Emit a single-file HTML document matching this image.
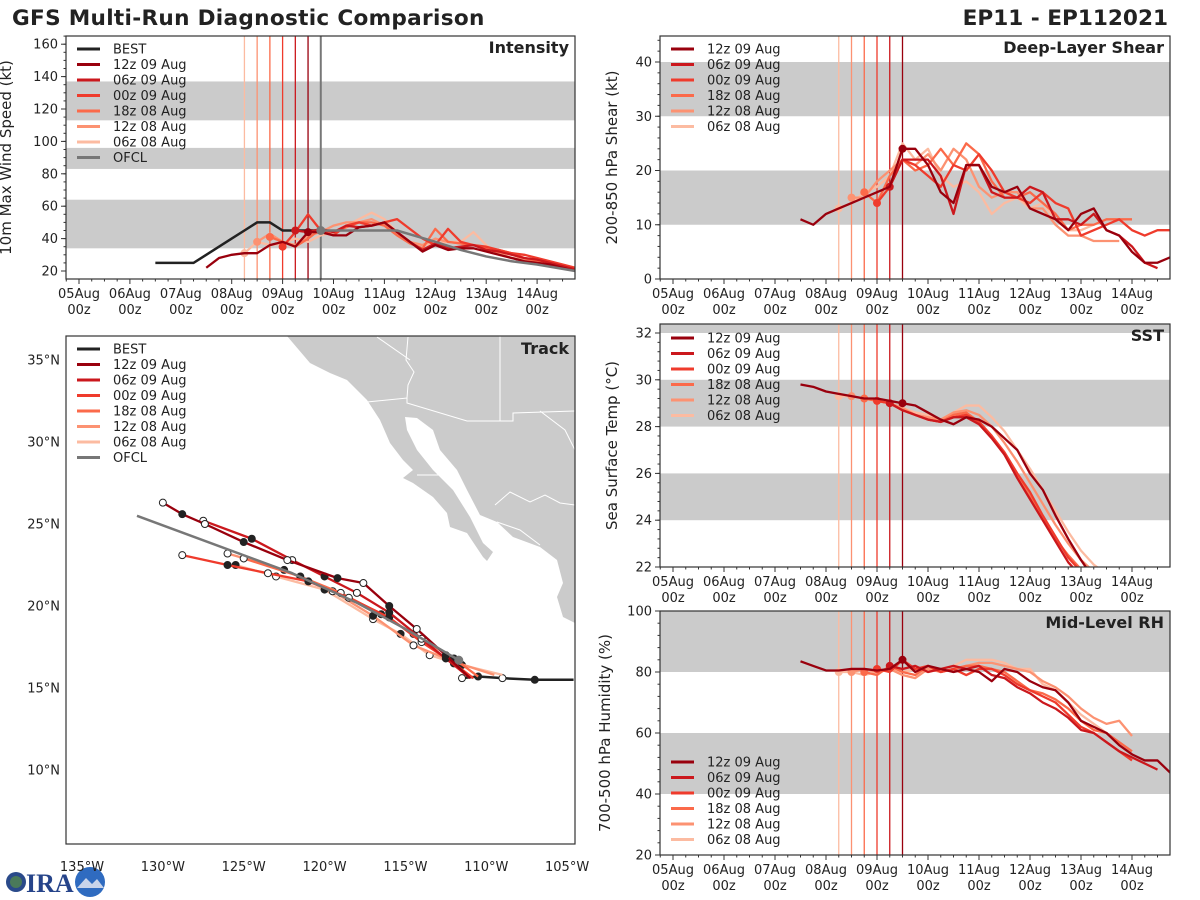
<!DOCTYPE html>
<html><head><meta charset="utf-8">
<style>
body{margin:0;background:#fff;}
svg{display:block;font-family:"DejaVu Sans","Liberation Sans",sans-serif;}
</style></head>
<body>
<svg id="fig" width="1200" height="900" xmlns="http://www.w3.org/2000/svg">
<text x="12" y="25" font-size="21.6" font-weight="bold" fill="#222" letter-spacing="0.3">GFS Multi-Run Diagnostic Comparison</text>
<text x="1168" y="25" font-size="21.6" font-weight="bold" fill="#222" text-anchor="end">EP11 - EP112021</text>
<g>
<circle cx="16" cy="882" r="10" fill="#2a4a8a"/><circle cx="16" cy="882" r="6" fill="#4a7a5a"/>
<text x="26" y="892" font-size="26" font-weight="bold" fill="#26448a" font-family="Liberation Serif,serif">IRA</text>
<circle cx="90" cy="882" r="15" fill="#2f6bc0"/><path d="M77,888 L86,878 L92,884 L97,879 L104,888 Z" fill="#c9d4ea"/>
</g>
</svg>
<script>
// ---------- data ----------
const runLabels = ["12z 09 Aug","06z 09 Aug","00z 09 Aug","18z 08 Aug","12z 08 Aug","06z 08 Aug"];
const runStarts = [7.5, 9.25, 9.0, 8.75, 8.5, 8.25];
const runInit = [9.5, 9.25, 9.0, 8.75, 8.5, 8.25];
const dayTicks = ["05Aug","06Aug","07Aug","08Aug","09Aug","10Aug","11Aug","12Aug","13Aug","14Aug"];
const intTicks = [20,40,60,80,100,120,140,160];
const shearTicks = [0,10,20,30,40];
const sstTicks = [22,24,26,28,30,32];
const rhTicks = [20,40,60,80,100];
const bestStart = 6.5;
const bestInt = [25,25,25,25,30,35,40,45,50,50,45,45,45,45];
const ofclDays = [9.75,10,10.5,11,11.25,12,12.5,13,13.5,14,14.75];
const ofclInt = [45,45,45,45,45,38,33,29,26,24,20];
const int12z09 = [22,28,30,31,31,36,38,35,44,44,42,42,47,48,50,44,38,32,36,33,34,34,32,30,28,26,25,24,22,20,19,18];
const int06z09 = [45,44,46,44,48,47,48,50,44,38,33,37,34,35,36,33,32,30,28,27,25,23,21,19,18,18];
const int00z09 = [35,44,55,45,42,48,50,48,50,52,46,40,36,46,38,36,35,33,31,30,28,26,24,22,20];
const int18z08 = [41,38,35,40,46,44,47,50,50,48,42,37,34,46,38,37,36,34,33,31,28,26,24,22,21];
const int12z08 = [38,43,38,36,42,44,48,50,50,52,48,42,38,36,40,38,37,36,34,31,28,27,26,25,23];
const int06z08 = [31,38,36,37,40,38,42,44,48,52,56,52,44,38,36,37,38,38,44,36,30,28,27,26,25,23];
const sh12z09 = [11,10,12,13,14,15,16,17,24,24,21,16,14,21,21,17,16,17,13,12,11,9,12,13,9,8,5,3,3,4];
const sh06z09 = [17,22,22,22,19,12,21,21,16,15,15,17,16,11,11,10,12,9,8,6,3,2];
const sh00z09 = [14,17,22,21,19,17,21,20,23,20,16,15,14,16,14,13,8,9,10,11,9,8,9,9];
const sh18z08 = [16,14,19,22,20,21,24,21,25,23,18,15,15,16,14,12,9,10,10,11,11,11];
const sh12z08 = [15,15,18,20,22,21,23,20,24,22,17,15,16,16,13,13,10,8,8,7,7,7];
const sh06z08 = [13,14,16,17,19,25,22,24,19,17,18,16,12,14,15,13,14,11,9,9,10];
const sst12z09 = [29.8,29.7,29.5,29.4,29.3,29.2,29.2,29.1,29.0,28.9,28.6,28.3,28.1,28.4,28.3,28.0,27.5,27.0,26.0,25.3,24.2,23.2,22.3,21.5];
const sst06z09 = [29.0,28.7,28.5,28.3,28.2,28.4,28.4,28.1,27.5,26.8,25.8,24.9,24.0,23.1,22.2,21.6];
const sst00z09 = [29.1,29.0,28.7,28.5,28.3,28.2,28.4,28.5,28.2,27.6,26.9,26.0,25.2,24.2,23.3,22.4,21.8];
const sst18z08 = [29.2,29.1,29.0,28.7,28.5,28.3,28.2,28.5,28.6,28.2,27.6,26.8,25.9,25.0,24.1,23.2,22.5,21.9];
const sst12z08 = [29.3,29.2,29.1,29.0,28.8,28.5,28.4,28.3,28.6,28.7,28.5,28.0,27.3,26.5,25.6,24.7,23.8,23.0,22.3,21.8];
const sst06z08 = [29.3,29.3,29.2,29.1,29.0,28.8,28.6,28.5,28.3,28.6,28.9,28.9,28.4,27.8,27.0,26.2,25.3,24.4,23.5,22.7,22.1,21.7];
const rh12z09 = [83.5,82,80.5,80.5,81,81,80.5,81,84,80,82,81,80,81,80,77,81,80,77,75,74,70,64,62,60,56,53,51,51,47];
const rh06z09 = [82,81,82,80,81,82,81,82,79,78,75,73,70,68,65,61,60,57,54,52,50,48];
const rh00z09 = [81,80,84,81,82,80,81,79,81,81,79,76,74,72,70,66,62,60,57,54,51];
const rh18z08 = [80,79,82,80,79,82,80,81,82,82,81,80,77,74,73,71,68,64,61,60,57,54];
const rh12z08 = [80,81,80,81,79,78,81,80,81,82,83,83,82,81,80,77,75,72,68,65,63,64,59];
const rh06z08 = [80,80,79,80,81,80,81,80,81,82,84,84,84,83,81,81,76,74,70,66,63,60,56];
const bestTrack = {lon:[-104.6,-107,-109,-110.5,-111.5], lat:[15.5,15.5,15.6,15.7,15.6]};
const ofclTrack = {lon:[-111.7,-115,-118,-122,-131.6], lat:[16.7,18.6,20.2,22,25.5]};
const trk12z09 = {lon:[-111,-112.5,-114.3,-116,-117.6,-119.2,-122.3,-125,-127.4,-128.8,-130], lat:[15.6,17.0,18.6,20.0,21.4,21.7,22.8,23.9,25.0,25.6,26.3]};
const trk06z09 = {lon:[-111,-112.5,-114,-116,-118,-120,-122,-124.5,-127.5], lat:[15.6,16.8,18.0,19.6,20.8,21.8,22.8,24.1,25.2]};
const trk00z09 = {lon:[-110.8,-112,-114,-116,-118.5,-121,-123.5,-126,-128.8], lat:[15.6,16.5,17.8,19.3,20.5,21.5,22.0,22.5,23.1]};
const trk18z08 = {lon:[-110.5,-112,-114.5,-116.5,-119,-121.5,-125], lat:[15.7,16.8,18.3,19.5,20.8,21.8,22.9]};
const trk12z08 = {lon:[-109.5,-112,-114.5,-117,-119.5,-122.5,-126], lat:[15.8,16.6,17.6,19.4,20.9,22.2,23.2]};
const trk06z08 = {lon:[-109,-111.5,-113.5,-115.3,-117,-120,-123,-125.5], lat:[15.8,16.4,17.0,18.3,19.2,21.0,21.8,22.5]};
const lonTicks = [-135,-130,-125,-120,-115,-110,-105];
const latTicks = [10,15,20,25,30,35];
</script>
<script>
const NS="http://www.w3.org/2000/svg";
const fig=document.getElementById('fig');
const colors=["#99000d","#cb181d","#ef3b2c","#fb6a4a","#fc9272","#fcbba1"];
function el(tag,attrs,parent){const e=document.createElementNS(NS,tag);for(const k in attrs)e.setAttribute(k,attrs[k]);(parent||fig).appendChild(e);return e;}
function txt(x,y,s,size,attrs,parent){const t=el('text',Object.assign({x:x,y:y,'font-size':size,fill:'#222'},attrs||{}),parent);t.textContent=s;return t;}

function panel(o){
  const g=el('g',{});
  
  
  const X=d=>o.x0+(d-5)*o.dx, Y=v=>o.yb-(v-o.vb)*o.dy;
  const cid='clip-'+o.name;
  const cp=el('clipPath',{id:cid},g);el('rect',{x:o.L,y:o.T,width:o.R-o.L,height:o.B-o.T},cp);
  o.bands.forEach(b=>{const r=el('rect',{x:o.L,width:o.R-o.L,y:Math.max(o.T,Y(b[1])),height:Math.min(o.B,Y(b[0]))-Math.max(o.T,Y(b[1])),fill:'#cbcbcb','clip-path':`url(#${cid})`},g);
    });
  runInit.forEach((d,i)=>{const l=el('line',{x1:X(d),x2:X(d),y1:o.T,y2:o.B,stroke:colors[i],'stroke-width':1.3},g);
    });
  if(o.ofclLine){const l=el('line',{x1:X(9.75),x2:X(9.75),y1:o.T,y2:o.B,stroke:'#777','stroke-width':2},g);}
  const cg=el('g',{'clip-path':`url(#${cid})`},g);
  if(o.best){const p=el('polyline',{points:o.best.map((v,i)=>X(bestStart+i*0.25)+','+Y(v)).join(' '),fill:'none',stroke:'#222','stroke-width':2.5},cg);
    }
  for(let i=5;i>=0;i--){const s=o.series[i];
    const p=el('polyline',{points:s.map((v,k)=>X(runStarts[i]+k*0.25)+','+Y(v)).join(' '),fill:'none',stroke:colors[i],'stroke-width':2.3,'stroke-linejoin':'round'},cg);
    
    const k=Math.round((runInit[i]-runStarts[i])/0.25);
    const c=el('circle',{cx:X(runInit[i]),cy:Y(s[k]),r:4,fill:colors[i]},cg);
    }
  if(o.ofcl){const p=el('polyline',{points:ofclDays.map((d,i)=>X(d)+','+Y(o.ofcl[i])).join(' '),fill:'none',stroke:'#777','stroke-width':2.5},cg);
    
    const c=el('circle',{cx:X(9.75),cy:Y(o.ofcl[0]),r:4.5,fill:'#777'},cg);}
  const fr=el('rect',{x:o.L,y:o.T,width:o.R-o.L,height:o.B-o.T,fill:'none',stroke:'#333','stroke-width':1.2},g);
  
  dayTicks.forEach((t,i)=>{const x=X(5+i);
    el('line',{x1:x,x2:x,y1:o.B,y2:o.B+5,stroke:'#333'},g);
    for(let q=1;q<4;q++){const xm=X(5+i+q*0.25);if(xm<o.R)el('line',{x1:xm,x2:xm,y1:o.B,y2:o.B+2.5,stroke:'#333'},g);}
    const a=txt(x,o.B+19,t,13,{'text-anchor':'middle'},g);
    const b=txt(x,o.B+35,'00z',13,{'text-anchor':'middle'},g);});
  el('line',{x1:X(4.75),x2:X(4.75),y1:o.B,y2:o.B+2.5,stroke:'#333'},g);
  o.yticks.forEach(v=>{const y=Y(v);el('line',{x1:o.L-5,x2:o.L,y1:y,y2:y,stroke:'#333'},g);
    const a=txt(o.L-8,y+4.5,String(v),13,{'text-anchor':'end'},g);});
  for(let v=o.minor[0];v<=o.minor[1]+1e-9;v+=o.minor[2]){const y=Y(v);if(y>=o.T&&y<=o.B)el('line',{x1:o.L-2.5,x2:o.L,y1:y,y2:y,stroke:'#333'},g);}
  const yt=txt(0,0,o.ytitle,15,{'text-anchor':'middle',transform:`translate(${o.L-o.ytOff},${(o.T+o.B)/2}) rotate(-90)`},g);
  
  const pt=txt(o.R-6,o.T+17,o.title,16,{'text-anchor':'end','font-weight':'bold'},g);
  legend(g,o.L+11,o.legY,o.legBest);
}
function legend(g,x,y,withBest){
  const lg=el('g',{},g);
  
  
  const items=[];if(withBest)items.push(['BEST','#222']);runLabels.forEach((l,i)=>items.push([l,colors[i]]));if(withBest)items.push(['OFCL','#777']);
  items.forEach((it,i)=>{const yy=y+i*15.5;
    const e=el('g',{},lg);
    
    
    el('line',{x1:x,x2:x+23,y1:yy,y2:yy,stroke:it[1],'stroke-width':3},e);
    txt(x+36,yy+4.5,it[0],13,{},e);});
}
panel({name:'intensity-panel',L:66,R:575,T:36,B:279,x0:79,dx:50.9,yb:271,vb:20,dy:1.62,bands:[[34,64],[83,96],[113,137]],
  series:[int12z09,int06z09,int00z09,int18z08,int12z08,int06z08],best:bestInt,ofcl:ofclInt,ofclLine:true,yticks:intTicks,minor:[20,165,5],
  ytitle:'10m Max Wind Speed (kt)',title:'Intensity',legY:49,legBest:true,ytOff:55});
panel({name:'shear-panel',L:660,R:1170,T:36,B:279,x0:673,dx:51,yb:279,vb:0,dy:5.425,bands:[[10,20],[30,40]],
  series:[sh12z09,sh06z09,sh00z09,sh18z08,sh12z08,sh06z08],yticks:shearTicks,minor:[0,45,2],
  ytitle:'200-850 hPa Shear (kt)',title:'Deep-Layer Shear',legY:49,legBest:false,ytOff:43});
panel({name:'sst-panel',L:660,R:1170,T:324,B:567,x0:673,dx:51,yb:567,vb:22,dy:23.4,bands:[[24,26],[28,30],[32,34]],
  series:[sst12z09,sst06z09,sst00z09,sst18z08,sst12z08,sst06z08],yticks:sstTicks,minor:[22,32.4,0.4],
  ytitle:'Sea Surface Temp (°C)',title:'SST',legY:338,legBest:false,ytOff:43});
panel({name:'rh-panel',L:660,R:1170,T:611,B:855,x0:673,dx:51,yb:855,vb:20,dy:3.05,bands:[[40,60],[80,100]],
  series:[rh12z09,rh06z09,rh00z09,rh18z08,rh12z08,rh06z08],yticks:rhTicks,minor:[20,100,4],
  ytitle:'700-500 hPa Humidity (%)',title:'Mid-Level RH',legY:762,legBest:false,ytOff:50});

// ---------- track ----------
(function(){
  const g=el('g',{});
  
  
  const L=66,R=575,T=336,B=844;
  const X=lon=>82+(lon+135)*16.17, Y=lat=>770-(lat-10)*16.4;
  const cp=el('clipPath',{id:'clip-track'},g);
  el('rect',{x:L,y:T,width:R-L,height:B-T},cp);
  const land=el('polygon',{points:'287,336 310,363 330,373 347,380 367,400 380,420 390,443 403,460 413,470 403,478 413,483 433,497 447,513 450,527 467,533 483,557 487,561 493,552 483,543 470,517 453,490 433,470 417,450 407,430 405,417 417,418 433,430 440,450 457,470 467,490 480,515 497,522 513,537 540,547 557,560 563,583 557,597 563,617 575,623 575,336',fill:'#cbcbcb','clip-path':'url(#clip-track)'},g);
  
  const b1=el('polyline',{points:'367,402 407,398 407,403 467,421 513,421 513,413 575,411',fill:'none',stroke:'#fff','stroke-width':1},g);
  
  el('line',{x1:500,y1:336,x2:500,y2:421,stroke:'#fff','stroke-width':1},g);
  el('polyline',{points:'377,337 410,360',fill:'none',stroke:'#fff','stroke-width':1},g);
  el('polyline',{points:'408,337 406,360 414,372 408,385 407,398',fill:'none',stroke:'#fff','stroke-width':1},g);
  el('polyline',{points:'540,411 565,430 575,450',fill:'none',stroke:'#fff','stroke-width':1},g);
  el('polyline',{points:'417,475 443,475',fill:'none',stroke:'#fff','stroke-width':1},g);
  el('polyline',{points:'495,505 510,492 530,502 545,495 560,503 575,505',fill:'none',stroke:'#fff','stroke-width':1},g);
  el('polyline',{points:'497,522 520,530 540,545',fill:'none',stroke:'#fff','stroke-width':1},g);
  const cg=el('g',{'clip-path':'url(#clip-track)'},g);
  function trk(t,color,w,name,markers){
    const p=el('polyline',{points:t.lon.map((lo,i)=>X(lo)+','+Y(t.lat[i])).join(' '),fill:'none',stroke:color,'stroke-width':w,'stroke-linejoin':'round'},cg);
    
    if(markers)t.lon.forEach((lo,i)=>{if(i===0)return;const c=el('circle',{cx:X(lo),cy:Y(t.lat[i]),r:3.5,fill:i%2?'#222':'#fff',stroke:'#222','stroke-width':1},cg);
      });
  }
  trk(bestTrack,'#222',2.5,'best-track',true);
  const trks=[trk12z09,trk06z09,trk00z09,trk18z08,trk12z08,trk06z08];
  for(let i=5;i>=0;i--)trk(trks[i],colors[i],2.3,'run-track-'+runLabels[i].replace(/ /g,'-').toLowerCase(),true);
  trk(ofclTrack,'#777',2.5,'ofcl-track',false);
  const oc=el('circle',{cx:X(ofclTrack.lon[0]),cy:Y(ofclTrack.lat[0]),r:4.5,fill:'#777'},cg);
  const fr=el('rect',{x:L,y:T,width:R-L,height:B-T,fill:'none',stroke:'#333','stroke-width':1.2},g);
  lonTicks.forEach(v=>{const a=txt(X(v),871,Math.abs(v)+'°W',13,{'text-anchor':'middle'},g);});
  latTicks.forEach(v=>{const a=txt(60,Y(v)+4.5,v+'°N',13,{'text-anchor':'end'},g);});
  const pt=txt(R-6,T+18,'Track',16,{'text-anchor':'end','font-weight':'bold'},g);
  legend(g,L+11,349,true);
})();
</script>
</body></html>
